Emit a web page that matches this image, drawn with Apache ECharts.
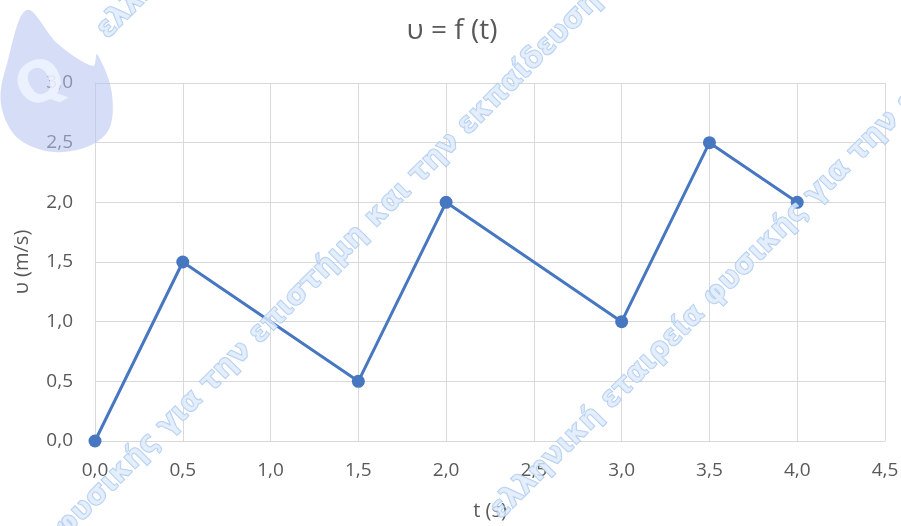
<!DOCTYPE html>
<html>
<head>
<meta charset="utf-8">
<script src="https://cdn.jsdelivr.net/npm/echarts@6/dist/echarts.min.js"></script>
<style>html,body{margin:0;padding:0;background:#fff;}#c{width:901px;height:526px;}</style>
</head>
<body>
<div id="c"></div>
<script>
var titleText = 'υ = f (t)';
var xName = 't (s)';
var yName = 'υ (m/s)';
var tValues = [0, 0.5, 1.5, 2.0, 3.0, 3.5, 4.0];
var vValues = [0, 1.5, 0.5, 2.0, 1.0, 2.5, 2.0];
var watermark = 'ελληνική εταιρεία φυσικής για την επιστήμη και την εκπαίδευση';

var chart = echarts.init(document.getElementById('c'), null, {renderer: 'canvas'});
var fmt = function (v) { return v.toFixed(1).replace('.', ','); };
var font = '"Open Sans", Lato, sans-serif';
var pts = tValues.map(function (t, i) { return [t, vValues[i]]; });

// watermark geometry
var wmFamily = '"DejaVu Sans", sans-serif';
var ctx = document.createElement('canvas').getContext('2d');
function mw(s, size) { ctx.font = 'bold ' + size + 'px ' + wmFamily; return ctx.measureText(s).width; }
var wmSize = 30 * 315 / mw('ια την επιστήμη κα', 30);
var ang = Math.PI / 4;
function wm(anchor, ax, ay) {
  var idx = watermark.indexOf(anchor);
  var d = mw(watermark.slice(0, idx), wmSize) + mw(anchor, wmSize) / 2;
  return {
    type: 'text', x: ax - d * Math.cos(ang), y: ay + d * Math.sin(ang), rotation: ang, z: 100, silent: true,
    style: {
      text: watermark, fill: 'rgba(222,234,250,0.8)', stroke: 'rgba(160,195,238,0.85)', lineWidth: 1.5,
      font: 'bold ' + wmSize + 'px ' + wmFamily, textAlign: 'left', textVerticalAlign: 'middle'
    }
  };
}

chart.setOption({
  animation: false,
  backgroundColor: '#fff',
  title: {
    text: titleText, left: 447, top: 12, textAlign: 'center',
    textStyle: {color: '#595959', fontSize: 28, fontWeight: 'normal', fontFamily: font}
  },
  grid: {left: 95, right: 16, top: 83, bottom: 85, containLabel: false, outerBoundsMode: 'none'},
  xAxis: {
    type: 'value', min: 0, max: 4.5, interval: 0.5,
    name: xName, nameLocation: 'middle', nameGap: 60,
    nameTextStyle: {color: '#595959', fontSize: 20, fontFamily: font},
    axisLine: {show: true, lineStyle: {color: '#d9d9d9', width: 1}},
    axisTick: {show: false},
    splitLine: {show: true, lineStyle: {color: '#d9d9d9', width: 1}},
    axisLabel: {formatter: fmt, color: '#595959', fontSize: 19, fontFamily: font, margin: 20}
  },
  yAxis: {
    type: 'value', min: 0, max: 3, interval: 0.5,
    name: yName, nameLocation: 'middle', nameGap: 63,
    nameTextStyle: {color: '#595959', fontSize: 20, fontFamily: font},
    axisLine: {show: true, lineStyle: {color: '#d9d9d9', width: 1}},
    axisTick: {show: false},
    splitLine: {show: true, lineStyle: {color: '#d9d9d9', width: 1}},
    axisLabel: {formatter: fmt, color: '#595959', fontSize: 19, fontFamily: font, margin: 22}
  },
  series: [{
    type: 'line', data: pts, symbol: 'circle', symbolSize: 13,
    lineStyle: {color: '#4777c0', width: 3},
    itemStyle: {color: '#4777c0'}
  }],
  graphic: [
    {
      type: 'polygon', z: 90, silent: true,
      shape: {points: [[27, 10], [58, 44], [93, 66], [97, 54], [112, 94], [106, 134], [64, 152], [20, 140], [1, 104], [8, 60]], smooth: 0.35},
      style: {fill: 'rgba(180,195,240,0.55)'}
    },
    {
      type: 'text', x: 42, y: 86, rotation: 0.5, z: 91, silent: true,
      style: {text: 'Q', fill: 'rgba(238,244,255,0.85)', font: 'bold 56px ' + wmFamily, textAlign: 'center', textVerticalAlign: 'middle'}
    },
    wm('για', 180, 413),
    wm('εταιρεία', 653, 357),
    wm('ελ', 114, 22)
  ]
});
</script>
</body>
</html>
